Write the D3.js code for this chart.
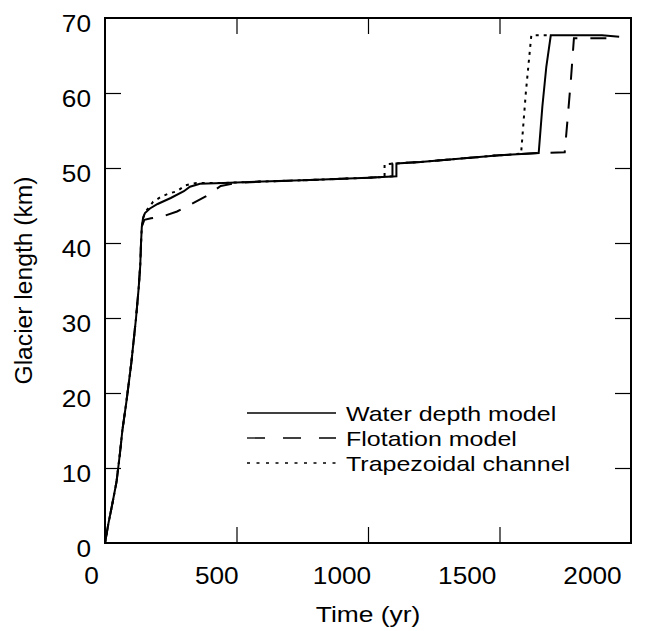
<!DOCTYPE html>
<html>
<head>
<meta charset="utf-8">
<script src="https://cdn.jsdelivr.net/npm/d3@7"></script>
<style>
  html, body { margin: 0; padding: 0; background: #fff; }
  text { font-family: "Liberation Sans", Arial, Helvetica, sans-serif; fill: #000; }
</style>
</head>
<body>
<svg id="chart" width="648" height="631"></svg>
<script>
// Glacier length through time for three calving formulations (t in yr, L in km)
const waterDepthModel = [
  [0, 0], [13, 2.6], [30, 5.6], [44, 8.2], [57, 12], [66, 15], [82, 19],
  [100, 24], [118, 30], [128, 34], [134, 37], [137, 40], [140, 42.2],
  [145, 43.4], [152, 44], [171, 44.6], [200, 45.2], [250, 46.0], [300, 46.9],
  [323, 47.5], [361, 47.9], [450, 48.0], [600, 48.2], [778, 48.4],
  [1000, 48.7], [1108, 48.9], [1108, 50.6], [1200, 50.8], [1300, 51.1],
  [1400, 51.4], [1500, 51.7], [1649, 52.0], [1663, 58.2], [1678, 63.5],
  [1695, 67.7], [1890, 67.7], [1955, 67.5]
];
const flotationModel = [
  [0, 0], [13, 2.6], [30, 5.6], [44, 8.2], [57, 12], [66, 15], [82, 19],
  [100, 24], [118, 30], [128, 34], [134, 37], [137, 40], [140, 42.2],
  [150, 43.1], [175, 43.3], [215, 43.5], [274, 44.2], [323, 45.1],
  [383, 46.2], [440, 47.6], [500, 48.0], [600, 48.2], [778, 48.4],
  [1000, 48.7], [1093, 48.9], [1093, 50.6], [1200, 50.8], [1300, 51.1],
  [1400, 51.4], [1500, 51.7], [1649, 52.0], [1748, 52.1], [1760, 57],
  [1772, 62], [1783, 67.3], [1955, 67.3]
];
const trapezoidalChannel = [
  [0, 0], [13, 2.6], [30, 5.6], [44, 8.2], [57, 12], [66, 15], [82, 19],
  [100, 24], [118, 30], [128, 34], [134, 37], [137, 40], [140, 42.2],
  [150, 44.0], [164, 44.6], [183, 45.5], [215, 46.2], [243, 46.6],
  [274, 46.9], [306, 47.7], [348, 48.0], [450, 48.0], [600, 48.2],
  [778, 48.4], [1000, 48.7], [1063, 48.8], [1063, 50.5], [1200, 50.8],
  [1300, 51.1], [1400, 51.4], [1500, 51.7], [1582, 51.9], [1600, 60],
  [1621, 67.7], [1695, 67.7]
];

const seriesNames = ["Water depth model", "Flotation model", "Trapezoidal channel"];
const xTickValues = [0, 500, 1000, 1500, 2000];
const yTickValues = [0, 10, 20, 30, 40, 50, 60, 70];
const xTitle = "Time (yr)";
const yTitle = "Glacier length (km)";

const series = [
  { name: seriesNames[0], values: waterDepthModel, dash: null, keyDash: null },
  { name: seriesNames[1], values: flotationModel, dash: "16,13", keyDash: "18,18" },
  { name: seriesNames[2], values: trapezoidalChannel, dash: "3,5", keyDash: "3,6.5" }
];

const svg = d3.select("#chart");
const plotLeft = 105, plotRight = 631, plotTop = 18, plotBottom = 543;

const x = d3.scaleLinear().domain([0, 2000]).range([plotLeft, plotRight]);
const y = d3.scaleLinear().domain([0, 70]).range([plotBottom, plotTop]);
// the time labels sit on a slightly narrower span than the frame
const xLabel = d3.scaleLinear().domain([0, 2000]).range([91, 592]);

// inner tick marks on all four sides
const innerX = xTickValues.filter(d => d > 0 && d < 2000);
const innerY = yTickValues.filter(d => d > 0 && d < 70);
const TICK = 16;

svg.append("g").attr("transform", `translate(0,${plotBottom})`)
  .call(d3.axisTop(x).tickValues(innerX).tickSize(TICK).tickFormat(""))
  .call(g => g.select(".domain").remove());
svg.append("g").attr("transform", `translate(0,${plotTop})`)
  .call(d3.axisBottom(x).tickValues(innerX).tickSize(TICK).tickFormat(""))
  .call(g => g.select(".domain").remove());
svg.append("g").attr("transform", `translate(${plotLeft},0)`)
  .call(d3.axisRight(y).tickValues(innerY).tickSize(TICK).tickFormat(""))
  .call(g => g.select(".domain").remove());
svg.append("g").attr("transform", `translate(${plotRight},0)`)
  .call(d3.axisLeft(y).tickValues(innerY).tickSize(TICK).tickFormat(""))
  .call(g => g.select(".domain").remove());
svg.selectAll(".tick line").attr("stroke", "#000").attr("stroke-width", 1.2);

// tick labels (glyphs drawn slightly wide)
const xLab = svg.append("g").attr("transform", `translate(0,${plotBottom})`)
  .call(d3.axisBottom(xLabel).tickValues(xTickValues).tickSize(0).tickPadding(0)
    .tickFormat(d3.format("d")))
  .call(g => g.select(".domain").remove());
xLab.selectAll("text")
  .attr("font-size", 23).attr("font-family", null)
  .attr("y", 0).attr("dy", 0)
  .attr("transform", "translate(0,40.5) scale(1.14,1)");

const yLab = svg.append("g").attr("transform", `translate(${plotLeft},0)`)
  .call(d3.axisLeft(y).tickValues(yTickValues).tickSize(0).tickPadding(0)
    .tickFormat(d3.format("d")))
  .call(g => g.select(".domain").remove());
yLab.selectAll("text")
  .attr("font-size", 23).attr("font-family", null)
  .attr("x", 0).attr("dy", 0).attr("y", 0)
  .attr("transform", "translate(-14,13.5) scale(1.14,1)");

// axis titles
svg.append("text")
  .attr("text-anchor", "middle").attr("font-size", 22)
  .attr("transform", `translate(${(plotLeft + plotRight) / 2},622) scale(1.2,1)`)
  .text(xTitle);
svg.append("text")
  .attr("text-anchor", "middle").attr("font-size", 22)
  .attr("transform", `translate(32,${(plotTop + plotBottom) / 2}) rotate(-90) scale(1.12,1.1)`)
  .text(yTitle);

// curves
const line = d3.line().x(d => x(d[0])).y(d => y(d[1]));
svg.append("g").selectAll("path")
  .data(series.slice().reverse())
  .join("path")
  .attr("d", d => line(d.values))
  .attr("fill", "none")
  .attr("stroke", "#000")
  .attr("stroke-width", 2)
  .attr("stroke-dasharray", d => d.dash);

// frame
svg.append("rect")
  .attr("x", plotLeft).attr("y", plotTop)
  .attr("width", plotRight - plotLeft).attr("height", plotBottom - plotTop)
  .attr("fill", "none").attr("stroke", "#000").attr("stroke-width", 2);

// legend
const legend = svg.append("g");
const rowY = d3.scalePoint().domain(seriesNames).range([413, 463]);
series.forEach(s => {
  const g = legend.append("g").attr("transform", `translate(0,${rowY(s.name)})`);
  g.append("line")
    .attr("x1", 247).attr("x2", 336).attr("y1", 0).attr("y2", 0)
    .attr("stroke", "#000").attr("stroke-width", 1.3)
    .attr("stroke-dasharray", s.keyDash);
  g.append("text")
    .attr("font-size", 21)
    .attr("transform", "translate(346,7.5) scale(1.19,1)")
    .text(s.name);
});
</script>
</body>
</html>
